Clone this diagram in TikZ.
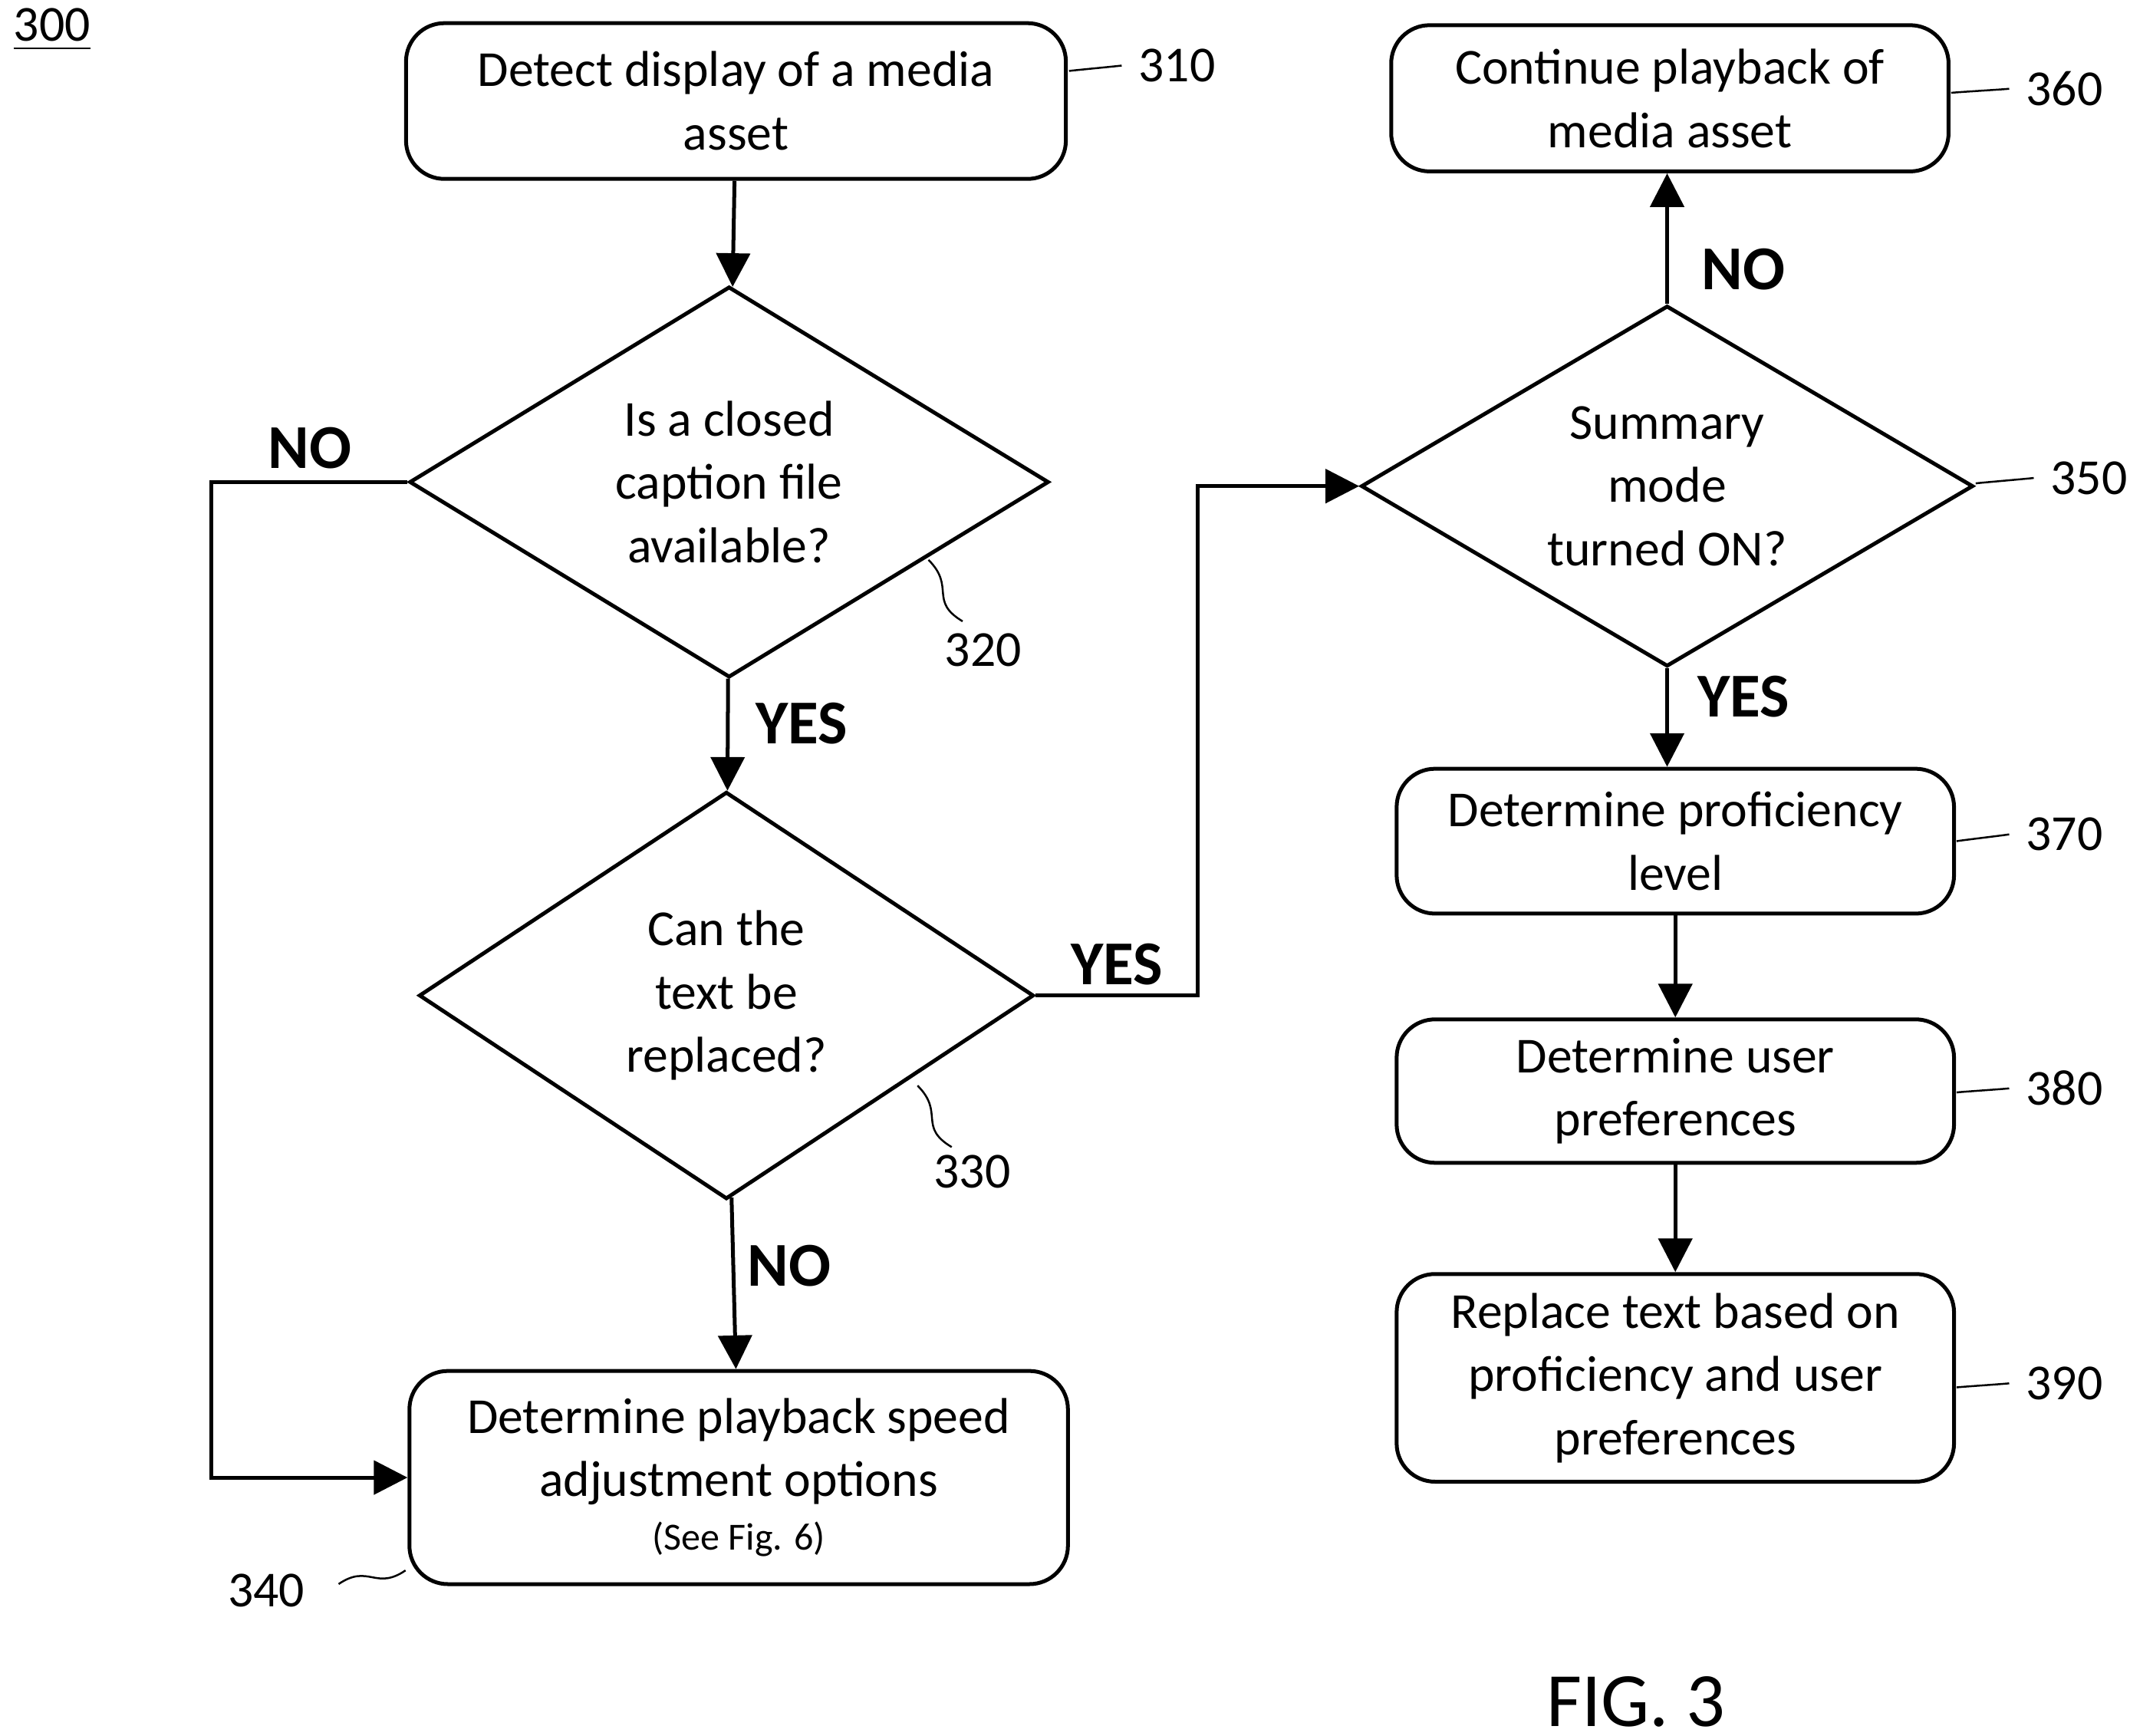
\documentclass[tikz,border=0pt]{standalone}
\usepackage{fontspec}
\setmainfont{Carlito}
\usetikzlibrary{shapes.geometric,arrows.meta}
\tikzset{
  process/.style={draw,rounded corners=8pt,thick,align=center,font=\fontsize{10.5}{13.2}\selectfont},
  decision/.style={draw,diamond,thick,inner sep=0pt,aspect=1.64,align=center,font=\fontsize{10.5}{13.2}\selectfont},
  flow/.style={thick,-{Triangle[length=7pt,width=7pt]}},
  answer/.style={font=\fontsize{13}{15}\bfseries\selectfont},
  refnum/.style={font=\fontsize{10.5}{12}\selectfont},
  squiggle/.style={thin}
}
\newcommand{\refmark}[3]{% start, label position, text
  \node[refnum] (r#3) at (#2) {#3};
  \draw[squiggle] (#1) .. controls +(0.35,-0.25) and +(-0.35,0.25) .. (r#3.west);
}
\begin{document}
\begin{tikzpicture}[x=0.01cm,y=-0.01cm]
\useasboundingbox (0,0) rectangle (1560,1271);
    % Left column
    \node[process,minimum width=4.83cm,minimum height=1.14cm] (detect) at (539,74) {Detect display of a media\\asset};
    \node[decision,minimum width=4.68cm,minimum height=2.86cm] (caption) at (534,353) {Is a closed\\caption file\\available?};
    \node[decision,minimum width=4.50cm,minimum height=2.98cm] (replace) at (532,729) {Can the\\text be\\replaced?};
    \node[process,minimum width=4.82cm,minimum height=1.56cm] (speed) at (541,1082) {Determine playback speed\\adjustment options\\[-2pt]{\fontsize{8}{10}\selectfont (See Fig. 6)}};

    % Right column
    \node[process,minimum width=4.08cm,minimum height=1.07cm] (continue) at (1223,72) {Continue playback of\\media asset};
    \node[decision,minimum width=4.48cm,minimum height=2.64cm] (summary) at (1221,356) {Summary\\mode\\turned ON?};
    \node[process,minimum width=4.08cm,minimum height=1.06cm] (level) at (1227,616) {Determine proficiency\\level};
    \node[process,minimum width=4.08cm,minimum height=1.05cm] (prefs) at (1227,799) {Determine user\\preferences};
    \node[process,minimum width=4.08cm,minimum height=1.52cm] (text) at (1227,1009) {Replace text based on\\proficiency and user\\preferences};

    % Connectors
    \coordinate (noleft) at (155,353);
    \coordinate (yesup) at (877,729);
    \draw[flow] (detect) -- (caption);
    \draw[flow] (caption) -- (replace);
    \node[answer] (yescap) at (587,530) {YES};
    \draw[flow] (caption.west) -- (noleft) |- (speed.west);
    \node[answer] (nocap) at (227,328) {NO};
    \draw[flow] (replace) -- (speed);
    \node[answer] (norep) at (578,927) {NO};
    \draw[flow] (replace.east) -- (yesup) |- (summary.west);
    \node[answer] (yesrep) at (818,706) {YES};
    \draw[flow] (summary.north) -- (continue.south -| summary.north);
    \node[answer] (nosum) at (1277,197) {NO};
    \draw[flow] (summary.south) -- (level.north -| summary.south);
    \node[answer] (yessum) at (1277,510) {YES};
    \draw[flow] (level) -- (prefs);
    \draw[flow] (prefs) -- (text);

    % Reference numerals
    \refmark{783,52}{862,48}{310}
    \refmark{1429,68}{1512,65}{360}
    \refmark{1447,354}{1530,350}{350}
    \refmark{1433,616}{1512,611}{370}
    \refmark{1433,800}{1512,797}{380}
    \refmark{1433,1016}{1512,1013}{390}
    \draw[squiggle] (680,410) .. controls (700,430) and (680,440) .. (705,455);
    \node[refnum] (r320) at (720,476) {320};
    \draw[squiggle] (672,795) .. controls (692,815) and (672,825) .. (697,840);
    \node[refnum] (r330) at (712,858) {330};
    \draw[squiggle] (248,1160) .. controls (270,1145) and (275,1165) .. (297,1150);
    \node[refnum] (r340) at (195,1165) {340};
    \node[refnum] (fignum) at (38,22) {\underline{300}};
    \node[font=\fontsize{16}{18}\selectfont] (fig) at (1198,1246) {FIG. 3};
\end{tikzpicture}
\end{document}
